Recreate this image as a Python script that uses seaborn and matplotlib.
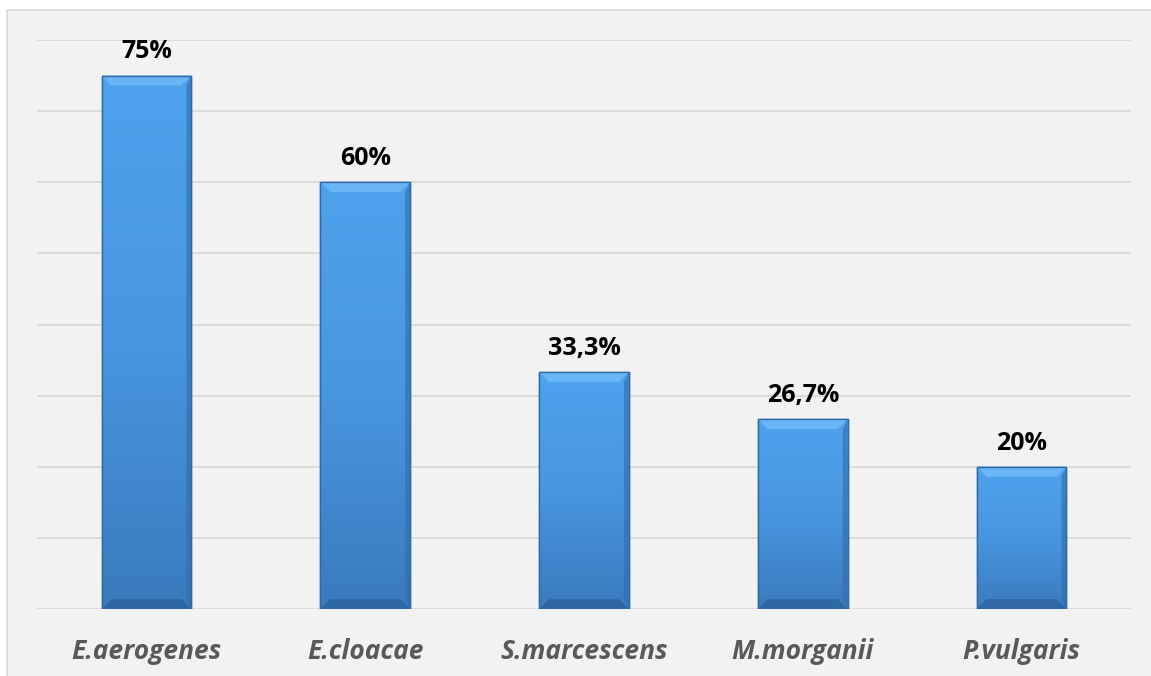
import matplotlib
matplotlib.use("Agg")
import matplotlib.pyplot as plt
import numpy as np
import pandas as pd
import seaborn as sns
from matplotlib.patches import Rectangle, Polygon
from matplotlib.colors import LinearSegmentedColormap

# Resistance rates per species (%)
species = ["E.aerogenes", "E.cloacae", "S.marcescens", "M.morganii", "P.vulgaris"]
rates = [75.0, 60.0, 33.3, 26.7, 20.0]
rate_labels = ["75%", "60%", "33,3%", "26,7%", "20%"]
y_ticks = [0, 10, 20, 30, 40, 50, 60, 70, 80]

sns.set_theme(style="white")
plt.rcParams["font.family"] = ["Open Sans", "DejaVu Sans"]

W, H = 1151, 676
fig = plt.figure(figsize=(W / 100, H / 100), dpi=100)
fig.patch.set_facecolor("white")

# Light grey chart frame
fig.patches.append(Rectangle((7 / W, -0.05), 1.1, 1 - 10 / H + 0.05,
                             transform=fig.transFigure, facecolor="#f2f2f2",
                             edgecolor="#d9d9d9", linewidth=1.2, zorder=-1))

ax = fig.add_axes([37 / W, 1 - 609 / H, (1131 - 37) / W, (609 - 40) / H])
ax.set_facecolor("none")
ax.set_zorder(1)

df = pd.DataFrame({"species": species, "rate": rates})
sns.barplot(data=df, x="species", y="rate", ax=ax, width=0.41,
            color="#4a96dd", edgecolor="#2f69a6", linewidth=1.0, zorder=3)

ax.set_ylim(0, 80)
ax.set_xlim(-0.5, len(species) - 0.5)
ax.set_yticks(y_ticks)
ax.set_yticklabels([])
ax.tick_params(axis="both", length=0)
for t in y_ticks:
    ax.axhline(t, color="#d9d9d9", linewidth=1.3, zorder=1)
for s in ax.spines.values():
    s.set_visible(False)
ax.set_xlabel("")
ax.set_ylabel("")

# Vertical gradient with bevelled edges on each bar
grad = LinearSegmentedColormap.from_list("bar", ["#3a7abd", "#4896df", "#4fa2ee"])
for p in list(ax.patches):
    x0, y0 = p.get_x(), p.get_y()
    w, h = p.get_width(), p.get_height()
    img = np.linspace(0, 1, 256).reshape(-1, 1)
    im = ax.imshow(img, cmap=grad, origin="lower", aspect="auto",
                   extent=(x0, x0 + w, y0, y0 + h), zorder=3.5)
    im.set_clip_path(p)
    bev_y = 1.4
    bev_x = w * 0.11
    ax.add_patch(Polygon([(x0, y0 + h), (x0 + w, y0 + h),
                          (x0 + w - bev_x, y0 + h - bev_y), (x0 + bev_x, y0 + h - bev_y)],
                         closed=True, facecolor="#6ab5f5", edgecolor="none", zorder=4))
    ax.add_patch(Polygon([(x0 + w, y0 + h), (x0 + w, y0),
                          (x0 + w - bev_x * 0.5, y0 + bev_y), (x0 + w - bev_x * 0.5, y0 + h - bev_y)],
                         closed=True, facecolor="#336ca9", edgecolor="none", alpha=0.6, zorder=4))
    ax.add_patch(Polygon([(x0, y0), (x0 + w, y0),
                          (x0 + w - bev_x, y0 + bev_y), (x0 + bev_x, y0 + bev_y)],
                         closed=True, facecolor="#2b609b", edgecolor="none", alpha=0.7, zorder=4))
    ax.add_patch(Rectangle((x0, y0), w, h, facecolor="none", edgecolor="#2f69a6",
                           linewidth=1.0, zorder=4.5))

ax.set_xlim(-0.5, len(species) - 0.5)
ax.set_ylim(0, 80)

for i, (v, lab) in enumerate(zip(rates, rate_labels)):
    ax.annotate(lab, (i, v), xytext=(0, 8), textcoords="offset points",
                ha="center", va="bottom", fontsize=18, fontweight="bold",
                color="black", zorder=6)

ax.set_xticks(range(len(species)))
ax.set_xticklabels(species, fontsize=19, fontweight="bold", fontstyle="italic",
                   color="#595959")
ax.tick_params(axis="x", pad=21)

fig.savefig("out.png", dpi=100, facecolor="white")
